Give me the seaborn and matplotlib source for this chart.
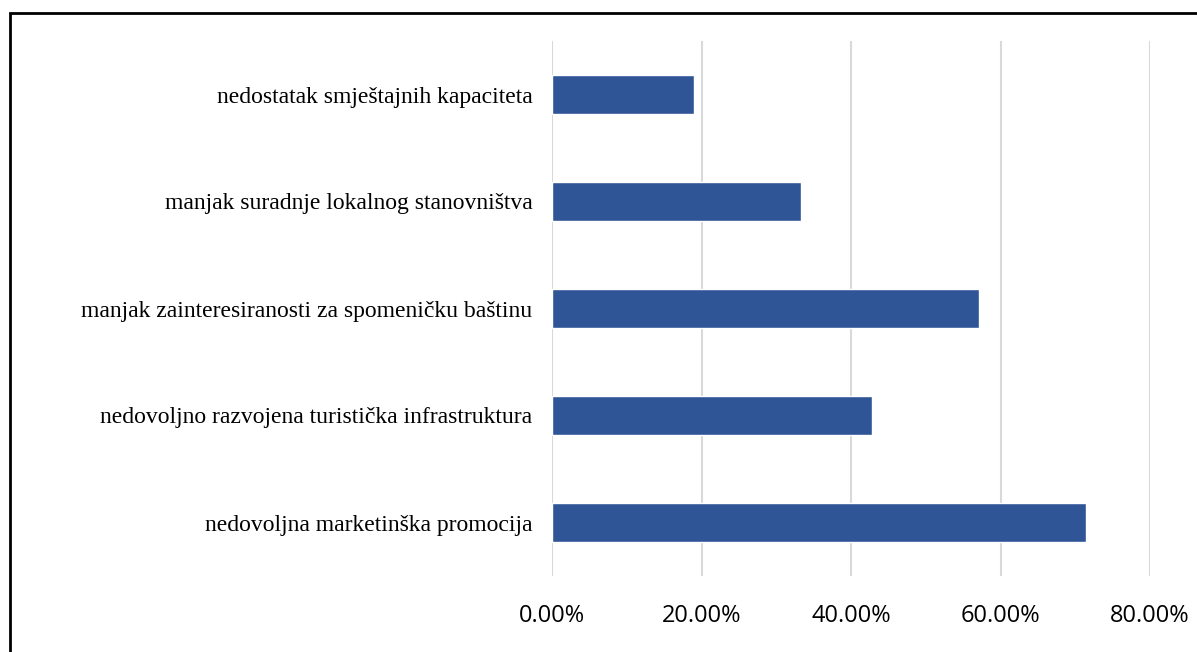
import matplotlib
matplotlib.use("Agg")
import matplotlib.pyplot as plt
import seaborn as sns
import pandas as pd
from matplotlib.patches import Rectangle
from matplotlib.ticker import PercentFormatter

categories = [
    "nedostatak smještajnih kapaciteta",
    "manjak suradnje lokalnog stanovništva",
    "manjak zainteresiranosti za spomeničku baštinu",
    "nedovoljno razvojena turistička infrastruktura",
    "nedovoljna marketinška promocija",
]
shares = [0.1905, 0.3333, 0.5714, 0.4286, 0.7143]
x_ticks = [0.0, 0.2, 0.4, 0.6, 0.8]

df = pd.DataFrame({"kategorija": categories, "udio": shares})

sns.set_theme(style="white")
plt.rcParams["font.family"] = ["DejaVu Sans"]

fig = plt.figure(figsize=(11.97, 6.52), dpi=100)
ax = fig.add_axes([552 / 1197, 1 - 576 / 652, (1150 - 552) / 1197, (576 - 41) / 652])

sns.barplot(data=df, x="udio", y="kategorija", color="#2F5597",
            width=0.36, saturation=1, ax=ax, zorder=3)

ax.set_xlim(0, 0.8)
ax.set_xticks(x_ticks)
ax.xaxis.set_major_formatter(PercentFormatter(xmax=1, decimals=2))
ax.grid(axis="x", color="#d9d9d9", linewidth=1.5, zorder=0)
ax.set_axisbelow(True)
for s in ax.spines.values():
    s.set_visible(False)
ax.set_xlabel("")
ax.set_ylabel("")
ax.tick_params(axis="x", length=0, pad=20, labelsize=17, labelcolor="black")
ax.tick_params(axis="y", length=0, pad=14, labelsize=17, labelcolor="black")
for lab in ax.get_xticklabels():
    lab.set_fontfamily("Open Sans")
for lab in ax.get_yticklabels():
    lab.set_fontfamily("Liberation Serif")

# outer frame (only top and left visible in the cropped reference)
fig.patches.append(Rectangle((10 / 1197, -0.1), 1.2, 1 - 13 / 652 + 0.1,
                             transform=fig.transFigure, fill=False,
                             edgecolor="black", linewidth=2))

fig.savefig("out.png", dpi=100)
